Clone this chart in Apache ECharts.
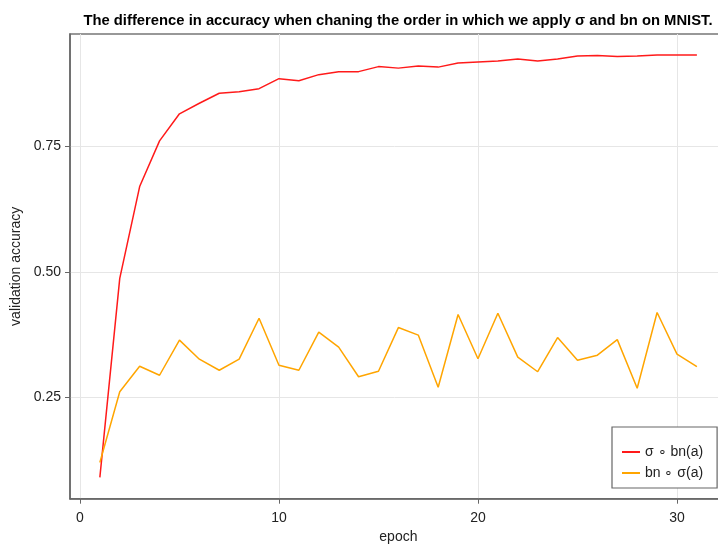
<!DOCTYPE html>
<html><head><meta charset="utf-8">
<script src="https://cdn.jsdelivr.net/npm/echarts@6/dist/echarts.min.js"></script>
<style>html,body{margin:0;padding:0;background:#fff}#c{width:718px;height:545px}</style>
</head><body><div id="c"></div>
<script>
const epochs = [1,2,3,4,5,6,7,8,9,10,11,12,13,14,15,16,17,18,19,20,21,22,23,24,25,26,27,28,29,30,31];
const sigmaBn = [0.0905,0.487,0.670,0.761,0.815,0.836,0.856,0.859,0.865,0.885,0.881,0.893,0.899,0.899,0.909,0.906,0.910,0.908,0.916,0.918,0.920,0.924,0.920,0.924,0.930,0.931,0.929,0.930,0.932,0.932,0.932];
const bnSigma = [0.120,0.261,0.312,0.294,0.364,0.326,0.304,0.326,0.4075,0.314,0.304,0.380,0.350,0.291,0.302,0.389,0.374,0.270,0.415,0.327,0.4175,0.330,0.301,0.369,0.324,0.334,0.365,0.268,0.419,0.336,0.311];
const xTicks = [0,10,20,30];
const yTicks = [0.25,0.50,0.75];
const seriesNames = ['σ ∘ bn(a)','bn ∘ σ(a)'];
const title = 'The difference in accuracy when chaning the order in which we apply σ and bn on MNIST.';

const font = 'Liberation Sans, Arial, sans-serif';
const chart = echarts.init(document.getElementById('c'), null, {renderer:'canvas'});
chart.setOption({
  animation:false,
  backgroundColor:'#fff',
  title:{text:title,left:398,textAlign:'center',top:13,padding:0,textStyle:{fontFamily:font,fontSize:14.8,fontWeight:'bold',color:'#000'}},
  grid:{left:70,top:34,width:656.75,height:464.7,outerBoundsMode:'none',containLabel:false,show:true,borderColor:'#777',borderWidth:1.5,backgroundColor:'transparent'},
  xAxis:{type:'value',min:-0.5,max:32.5,name:'epoch',nameLocation:'middle',nameGap:31,
    nameTextStyle:{fontFamily:font,fontSize:14,color:'#222'},
    axisLine:{show:true,onZero:false,lineStyle:{color:'#666',width:1.5}},
    axisTick:{show:true,customValues:xTicks,length:5,lineStyle:{color:'#666'}},
    axisLabel:{customValues:xTicks,fontFamily:font,fontSize:14,color:'#222',margin:12},
    splitLine:{show:true,lineStyle:{color:'#e6e6e6',width:1}}},
  yAxis:{type:'value',min:0.048,max:0.974,name:'validation accuracy',nameLocation:'middle',nameGap:43,nameRotate:90,
    nameTextStyle:{fontFamily:font,fontSize:14,color:'#222'},
    axisLine:{show:true,onZero:false,lineStyle:{color:'#666',width:1.5}},
    axisTick:{show:true,customValues:yTicks,length:5,lineStyle:{color:'#666'}},
    axisLabel:{customValues:yTicks,fontFamily:font,fontSize:14,color:'#222',margin:9,formatter:v=>v.toFixed(2)},
    splitLine:{show:true,lineStyle:{color:'#e6e6e6',width:1}}},
  legend:{data:seriesNames,orient:'vertical',left:612,top:427,
    backgroundColor:'#fff',borderColor:'#666',borderWidth:1.2,padding:[18,14,8,10],itemGap:7,
    icon:'rect',itemWidth:18,itemHeight:2,
    textStyle:{fontFamily:font,fontSize:14,color:'#222'}},
  series:[
    {name:seriesNames[0],type:'line',data:epochs.map((e,i)=>[e,sigmaBn[i]]),symbol:'none',lineStyle:{color:'#ff1a1a',width:1.5},itemStyle:{color:'#ff1a1a'}},
    {name:seriesNames[1],type:'line',data:epochs.map((e,i)=>[e,bnSigma[i]]),symbol:'none',lineStyle:{color:'#ffa500',width:1.5},itemStyle:{color:'#ffa500'}}
  ]
});
</script></body></html>
